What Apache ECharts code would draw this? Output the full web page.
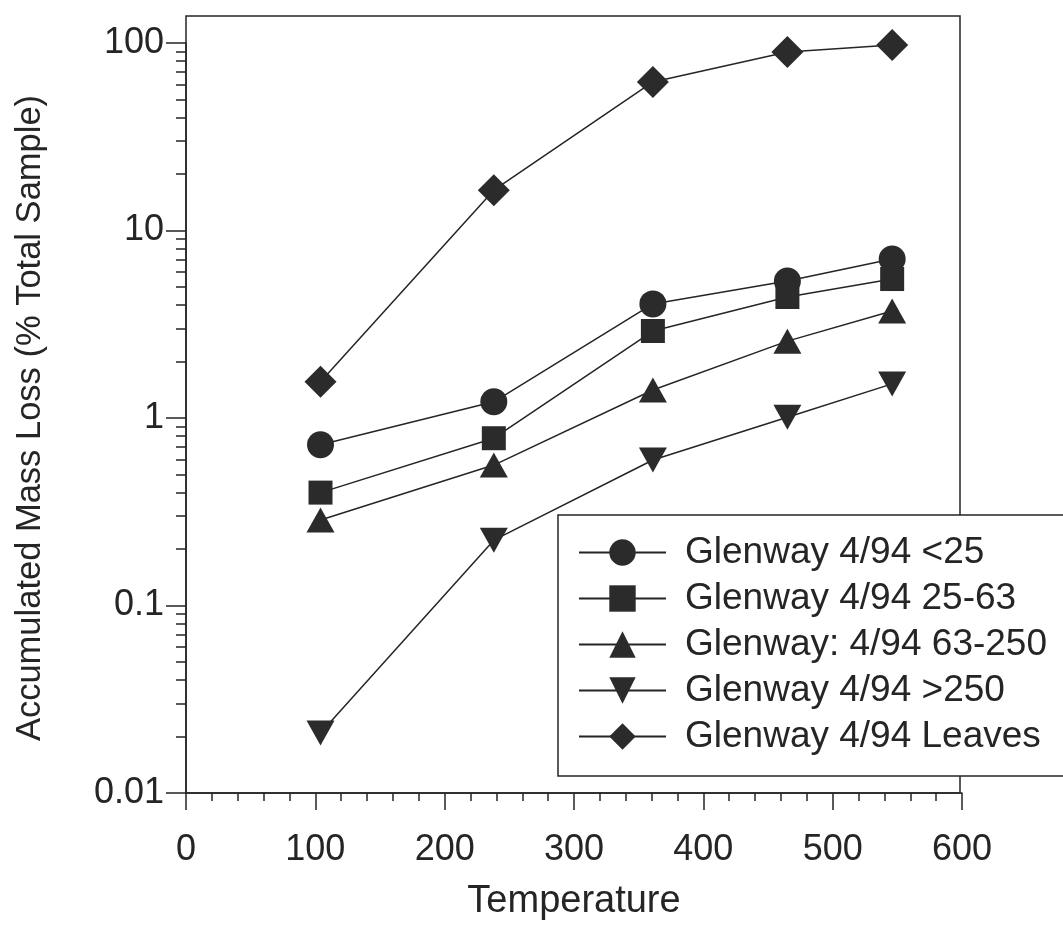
<!DOCTYPE html>
<html>
<head>
<meta charset="utf-8">
<title>Accumulated Mass Loss vs Temperature</title>
<script src="https://cdn.jsdelivr.net/npm/echarts@6/dist/echarts.min.js"></script>
<style>
  html, body { margin: 0; padding: 0; background: #fff; }
  #chart { width: 1063px; height: 934px; }
</style>
</head>
<body>
<div id="chart"></div>
<script>
// Heating temperatures at which the accumulated mass loss was measured
const temperatures = [104, 238, 361, 465, 546];

// Accumulated mass loss (% of total sample) for each size fraction
const seriesNames = [
  'Glenway 4/94 <25',
  'Glenway 4/94 25-63',
  'Glenway: 4/94 63-250',
  'Glenway 4/94 >250',
  'Glenway 4/94 Leaves'
];
const lossFine = [0.72, 1.22, 4.06, 5.38, 7.05];
const lossSilt = [0.40, 0.78, 2.91, 4.42, 5.51];
const lossSand = [0.286, 0.561, 1.41, 2.57, 3.72];
const lossCoarse = [0.0209, 0.223, 0.597, 1.01, 1.52];
const lossLeaves = [1.56, 16.4, 62, 89.5, 97.5];

// Axis tick labels
const xTicks = [0, 100, 200, 300, 400, 500, 600];
const yDecades = [0.01, 0.1, 1, 10, 100];

// Minor log ticks at 2..9 within each decade
const yMinorTicks = [];
for (let i = 0; i < yDecades.length - 1; i++) {
  for (let m = 2; m <= 9; m++) yMinorTicks.push(+(yDecades[i] * m).toPrecision(3));
}

const ink = '#252525';
const font = "'Liberation Sans', Arial, Helvetica, sans-serif";

function pairs(values) {
  return values.map((v, i) => [temperatures[i], v]);
}

const downTriangle = 'path://M0,0 L20,0 L10,18 Z';
const symbols = [
  { symbol: 'circle', size: 27 },
  { symbol: 'rect', size: 24 },
  { symbol: 'triangle', size: [28, 25] },
  { symbol: downTriangle, size: [28, 25] },
  { symbol: 'diamond', size: [32, 32] }
];
const datasets = [lossFine, lossSilt, lossSand, lossCoarse, lossLeaves];

const chart = echarts.init(document.getElementById('chart'), null, { renderer: 'canvas' });

const option = {
  backgroundColor: '#fff',
  animation: false,
  textStyle: { fontFamily: font, color: ink },
  grid: [
    { left: 186, right: 101, top: 43, bottom: 141, containLabel: false },
    // outer plot frame
    { left: 186, right: 103, top: 16, bottom: 141, show: true, borderColor: ink, borderWidth: 1.5, backgroundColor: 'transparent', z: 0 }
  ],
  xAxis: [
    {
      gridIndex: 0,
      type: 'value',
      min: 0, max: 600, interval: 100,
      name: 'Temperature',
      nameLocation: 'middle',
      nameGap: 90,
      nameTextStyle: { fontSize: 38, color: ink, fontFamily: font },
      axisLine: { lineStyle: { color: ink, width: 1.5 } },
      axisTick: { show: true, length: 17, lineStyle: { color: ink, width: 1.5 } },
      minorTick: { show: true, splitNumber: 5, length: 8, lineStyle: { color: ink, width: 1.5 } },
      splitLine: { show: false },
      axisLabel: {
        fontSize: 36, color: ink, fontFamily: font, margin: 39,
        formatter: v => (xTicks.includes(v) ? String(v) : '')
      }
    },
    { gridIndex: 1, type: 'value', show: false, min: 0, max: 1 }
  ],
  yAxis: [
    {
      gridIndex: 0,
      type: 'log',
      logBase: 10,
      min: 0.01, max: 100,
      name: 'Accumulated Mass Loss (% Total Sample)',
      nameLocation: 'middle',
      nameRotate: 90,
      nameGap: 138,
      nameTextStyle: { fontSize: 34.5, color: ink, fontFamily: font },
      axisLine: { show: true, lineStyle: { color: ink, width: 1.5 } },
      axisTick: { show: true, length: 20, lineStyle: { color: ink, width: 1.5 } },
      splitLine: { show: false },
      axisLabel: {
        fontSize: 36, color: ink, fontFamily: font, margin: 22,
        formatter: v => {
          const hit = yDecades.find(d => Math.abs(Math.log10(d) - Math.log10(v)) < 1e-6);
          return hit === undefined ? '' : String(hit);
        }
      }
    },
    {
      // minor ticks of the log axis
      gridIndex: 0,
      type: 'log',
      logBase: 10,
      min: 0.01, max: 100,
      position: 'left',
      axisLine: { show: false },
      axisLabel: { show: false },
      splitLine: { show: false },
      axisTick: { show: true, length: 10, customValues: yMinorTicks, lineStyle: { color: ink, width: 1.5 } }
    },
    { gridIndex: 1, type: 'value', show: false, min: 0, max: 1 }
  ],
  legend: {
    orient: 'vertical',
    left: 558,
    top: 515,
    padding: [19, 120, 21, 20],
    backgroundColor: '#fff',
    borderColor: ink,
    borderWidth: 1.5,
    borderRadius: 0,
    itemWidth: 87,
    itemHeight: 33,
    itemGap: 9,
    z: 10,
    textStyle: { fontSize: 37, lineHeight: 37, color: ink, fontFamily: font, padding: [0, 0, 0, 14] },
    data: seriesNames
  },
  series: datasets.map((values, i) => ({
    name: seriesNames[i],
    type: 'line',
    xAxisIndex: 0,
    yAxisIndex: 0,
    data: pairs(values),
    symbol: symbols[i].symbol,
    symbolSize: symbols[i].size,
    showAllSymbol: true,
    lineStyle: { color: ink, width: 1.5 },
    itemStyle: { color: '#2b2b2b', borderWidth: 0 },
    emphasis: { disabled: true },
    z: 3
  }))
};

chart.setOption(option);
</script>
</body>
</html>
